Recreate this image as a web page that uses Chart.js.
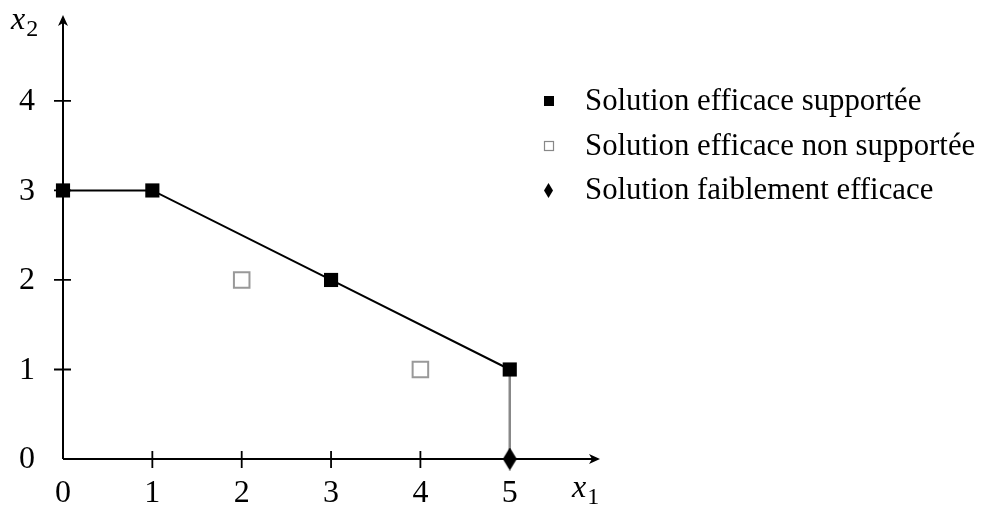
<!DOCTYPE html>
<html>
<head>
<meta charset="utf-8">
<script src="https://cdn.jsdelivr.net/npm/chart.js@4.4.1/dist/chart.umd.min.js"></script>
<style>
  html, body { margin: 0; padding: 0; background: #fff; }
  #wrap { width: 981px; height: 508px; }
</style>
</head>
<body>
<div id="wrap"><canvas id="chart" width="981" height="508"></canvas></div>
<script>
// data
const supportedX = [0, 1, 3, 5];
const supportedY = [3, 3, 2, 1];
const nonSupportedX = [2, 4];
const nonSupportedY = [2, 1];
const weakX = [5];
const weakY = [0];
const xTicks = [0, 1, 2, 3, 4, 5];
const yTicks = [0, 1, 2, 3, 4];
const legendLabels = ['Solution efficace supportée', 'Solution efficace non supportée', 'Solution faiblement efficace'];

const SERIF = '"Liberation Serif", "DejaVu Serif", serif';

function pts(xs, ys) {
  return xs.map((x, i) => ({ x: x, y: ys[i] }));
}

// tall diamond marker
function diamond(w, h) {
  const c = document.createElement('canvas');
  c.width = w; c.height = h;
  const g = c.getContext('2d');
  g.fillStyle = '#000';
  g.beginPath();
  g.moveTo(w / 2, 0);
  g.lineTo(w, h / 2);
  g.lineTo(w / 2, h);
  g.lineTo(0, h / 2);
  g.closePath();
  g.fill();
  return c;
}
const diamondImg = diamond(14, 23);

function mathLabel(ctx, x, y, sub) {
  ctx.save();
  ctx.fillStyle = '#000';
  ctx.textAlign = 'left';
  ctx.textBaseline = 'alphabetic';
  ctx.font = 'italic 32px ' + SERIF;
  ctx.fillText('x', x, y);
  const w = ctx.measureText('x').width;
  ctx.font = '24px ' + SERIF;
  ctx.fillText(sub, x + w + 1, y + 7);
  ctx.restore();
}

const axesPlugin = {
  id: 'axesPlugin',
  beforeDatasetsDraw(chart) {
    const ctx = chart.ctx;
    const xs = chart.scales.x, ys = chart.scales.y;
    const x0 = xs.getPixelForValue(0), y0 = ys.getPixelForValue(0);
    const xEnd = chart.chartArea.right, yEnd = chart.chartArea.top;
    ctx.save();
    ctx.strokeStyle = '#000';
    ctx.lineWidth = 2;
    ctx.beginPath();
    ctx.moveTo(x0, y0); ctx.lineTo(xEnd - 2, y0);
    ctx.moveTo(x0, y0); ctx.lineTo(x0, yEnd + 2);
    ctx.stroke();
    // arrow heads
    ctx.fillStyle = '#000';
    ctx.beginPath();
    ctx.moveTo(xEnd, y0); ctx.lineTo(xEnd - 11, y0 - 5); ctx.lineTo(xEnd - 8, y0); ctx.lineTo(xEnd - 11, y0 + 5);
    ctx.closePath(); ctx.fill();
    ctx.beginPath();
    ctx.moveTo(x0, yEnd); ctx.lineTo(x0 - 5, yEnd + 11); ctx.lineTo(x0, yEnd + 8); ctx.lineTo(x0 + 5, yEnd + 11);
    ctx.closePath(); ctx.fill();
    // tick marks
    ctx.lineWidth = 1.8;
    ctx.beginPath();
    xTicks.forEach(v => {
      if (v === 0) return;
      const px = xs.getPixelForValue(v);
      ctx.moveTo(px, y0 - 8); ctx.lineTo(px, y0 + 9);
    });
    yTicks.forEach(v => {
      if (v === 0) return;
      const py = ys.getPixelForValue(v);
      ctx.moveTo(x0 - 9, py); ctx.lineTo(x0 + 8, py);
    });
    ctx.stroke();
    // tick labels
    ctx.font = '32px ' + SERIF;
    ctx.textAlign = 'center';
    ctx.textBaseline = 'middle';
    xTicks.forEach(v => ctx.fillText(String(v), xs.getPixelForValue(v), y0 + 35));
    yTicks.forEach(v => ctx.fillText(String(v), x0 - 36, ys.getPixelForValue(v) + 1));
    ctx.restore();
    mathLabel(ctx, x0 - 52, yEnd + 14, '2');
    mathLabel(ctx, xEnd - 28, y0 + 38, '1');
  },
  afterDraw(chart) {
    const ctx = chart.ctx;
    const rowY = [101, 146, 190];
    ctx.save();
    // fit first legend row to its width in the figure
    ctx.font = '24px ' + SERIF;
    const size = 24 * 336 / ctx.measureText(legendLabels[0]).width;
    ctx.font = size.toFixed(1) + 'px ' + SERIF;
    ctx.textAlign = 'left';
    ctx.textBaseline = 'middle';
    ctx.fillStyle = '#000';
    legendLabels.forEach((t, i) => ctx.fillText(t, 585, rowY[i] + 1));
    // markers
    ctx.fillRect(544, rowY[0] - 5, 10, 10);
    ctx.strokeStyle = '#888';
    ctx.lineWidth = 1.2;
    ctx.strokeRect(544.5, rowY[1] - 4.5, 9, 9);
    ctx.drawImage(diamond(9, 15), 544, rowY[2] - 7);
    ctx.restore();
  }
};

new Chart(document.getElementById('chart'), {
  type: 'scatter',
  data: {
    datasets: [
      {
        label: legendLabels[0],
        data: pts(supportedX, supportedY),
        showLine: true,
        borderColor: '#000',
        backgroundColor: '#000',
        borderWidth: 2,
        pointStyle: 'rect',
        pointRadius: 10,
        pointBorderWidth: 0,
        order: 1
      },
      {
        label: 'vertical',
        data: [{ x: supportedX[3], y: supportedY[3] }, { x: weakX[0], y: weakY[0] }],
        showLine: true,
        borderColor: '#888',
        borderWidth: 2.5,
        pointRadius: 0,
        order: 3
      },
      {
        label: legendLabels[1],
        data: pts(nonSupportedX, nonSupportedY),
        pointStyle: 'rect',
        pointRadius: 11,
        backgroundColor: '#fff',
        borderColor: '#999',
        pointBorderWidth: 2,
        order: 2
      },
      {
        label: legendLabels[2],
        data: pts(weakX, weakY),
        pointStyle: diamondImg,
        order: 0
      }
    ]
  },
  options: {
    responsive: false,
    animation: false,
    layout: { padding: { left: 63, right: 381, top: 15, bottom: 49 } },
    plugins: { legend: { display: false }, tooltip: { enabled: false } },
    scales: {
      x: { type: 'linear', min: 0, max: 6.01, display: false },
      y: { type: 'linear', min: 0, max: 4.96, display: false }
    },
    clip: false
  },
  plugins: [axesPlugin]
});
</script>
</body>
</html>
